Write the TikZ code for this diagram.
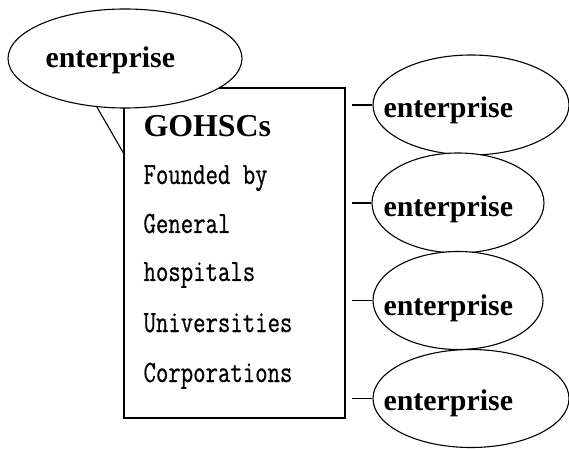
\documentclass[tikz,border=0pt]{standalone}
\usepackage{fontspec}
\setmainfont{Liberation Serif}
\newfontfamily\monof[FakeStretch=0.78,FakeBold=0.6]{Latin Modern Mono}
\usetikzlibrary{shapes.geometric}
\begin{document}
\begin{tikzpicture}[x=1bp,y=-1bp, line width=1.1bp,
  ell/.style={draw, ellipse, fill=white, inner sep=0pt},
  ent/.style={anchor=base west, inner sep=0pt, font=\fontsize{30}{30}\selectfont\bfseries},
  item/.style={anchor=base west, inner sep=0pt, font=\monof\fontsize{31}{31}\selectfont},
  link/.style={draw}]
\useasboundingbox (0,0) rectangle (569,449);
% main box
\node[draw, minimum width=221bp, minimum height=330bp, inner sep=0pt] (box) at (234.5,253) {};
\coordinate (tail) at (124,154);
% top-left ellipse (callout)
\node[ell, minimum width=234bp, minimum height=99bp] (top) at (125,58.5) {};
\draw (top.-120) -- (tail);
\node[ent] (toptext) at (45,68) {enterprise};
% box text
\node[anchor=base west, inner sep=0pt, font=\fontsize{32}{32}\selectfont\bfseries] (title) at (143,137) {GOHSCs};
\node[item] (l1) at (143,184) {Founded by};
\node[item] (l2) at (143,233) {General};
\node[item] (l3) at (143,281) {hospitals};
\node[item] (l4) at (143,332) {Universities};
\node[item] (l5) at (143,382) {Corporations};
% right ellipses
\node[ell, minimum width=196bp, minimum height=100bp] (e1) at (471,105) {};
\node[ell, minimum width=172bp, minimum height=100bp] (e2) at (458,203) {};
\node[ell, minimum width=170bp, minimum height=98bp] (e3) at (458,300.5) {};
\node[ell, minimum width=196bp, minimum height=98bp] (e4) at (471,398.5) {};
\node[ent] (t1) at (383,118) {enterprise};
\node[ent] (t2) at (383,217) {enterprise};
\node[ent] (t3) at (383,315) {enterprise};
\node[ent] (t4) at (383,410) {enterprise};
% connectors
\coordinate (c1) at (352,105);
\coordinate (c2) at (352,203);
\coordinate (c3) at (352,300.5);
\coordinate (c4) at (352,398.5);
\draw[link] (c1) -- (e1.west);
\draw[link] (c2) -- (e2.west);
\draw[link] (c3) -- (e3.west);
\draw[link] (c4) -- (e4.west);
\end{tikzpicture}
\end{document}
